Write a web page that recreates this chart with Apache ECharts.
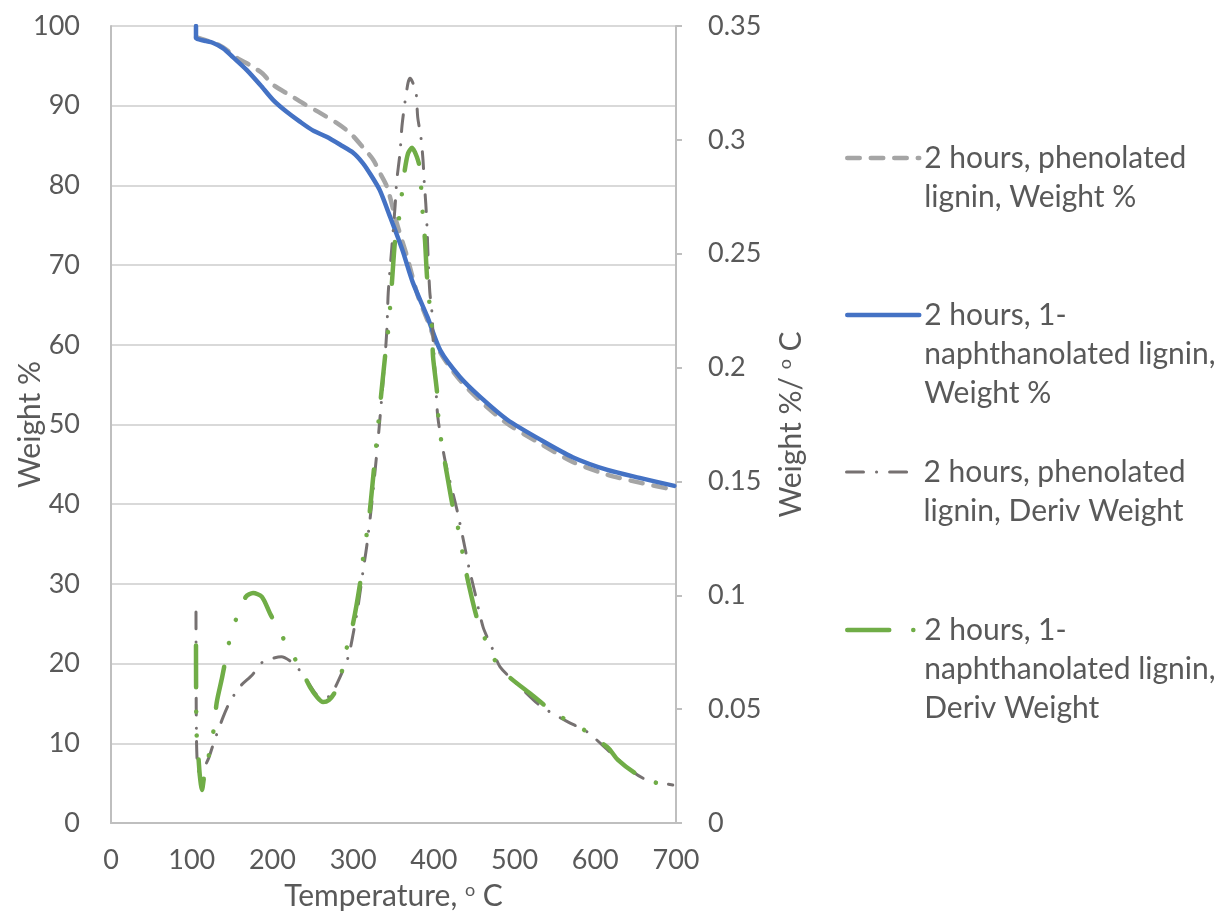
<!DOCTYPE html>
<html>
<head>
<meta charset="utf-8">
<script src="https://cdn.jsdelivr.net/npm/echarts@6/dist/echarts.min.js"></script>
<style>
  html, body { margin: 0; padding: 0; background: #ffffff; }
  #chart { width: 1220px; height: 916px; }
</style>
</head>
<body>
<div id="chart"></div>
<script>
// TGA of 2-hour modified lignins: weight % (left axis) and derivative weight (right axis)

// 2 hours, phenolated lignin — Weight %
const phenolWeightTemp = [105.3, 118, 130, 142, 156, 172, 187, 201, 222, 238, 259, 280, 296, 312, 325, 333, 342, 354, 367, 380, 392, 408, 432, 457, 491, 532, 572, 615, 655, 698];
const phenolWeight = [98.6, 98.2, 97.8, 97.1, 96.0, 95.1, 94.1, 92.6, 91.3, 90.3, 89.1, 87.8, 86.6, 84.8, 83.2, 81.6, 79.8, 75.3, 71.0, 66.2, 63.1, 59.0, 55.6, 53.0, 50.1, 47.6, 45.3, 43.7, 42.7, 41.8];

// 2 hours, 1-naphthanolated lignin — Weight %
const naphWeightTemp = [105.3, 105.3, 110, 118, 126, 139, 151, 168, 185, 201, 218, 234, 250, 267, 284, 300, 312, 322, 333, 346, 356, 362, 374, 392, 408, 432, 457, 491, 532, 572, 615, 655, 698];
const naphWeight = [100.0, 98.5, 98.3, 98.1, 97.9, 97.2, 96.1, 94.5, 92.6, 90.7, 89.2, 88.0, 86.9, 86.1, 85.1, 84.1, 82.8, 81.3, 79.4, 76.0, 73.3, 71.6, 67.8, 63.5, 59.3, 56.0, 53.5, 50.6, 48.1, 45.9, 44.3, 43.3, 42.3];

// 2 hours, phenolated lignin — Deriv Weight (%/°C)
const phenolDerivTemp = [105.3, 105.4, 105.6, 106, 107, 109, 113, 121, 128, 139, 147, 160, 175, 188, 211, 228, 243, 259, 270, 281, 294, 300, 306, 312, 317, 323, 330, 335, 339.5, 342, 343.5, 348, 352, 354, 358, 360.5, 364, 368, 370.5, 374, 378, 380, 384, 386.6, 388, 390, 391.5, 393, 395, 397.7, 399, 402, 405, 414, 429, 439, 443.6, 451, 461, 472, 482, 507, 529, 546, 566, 590, 618, 647, 664, 696];
const phenolDeriv = [0.0927, 0.07, 0.05, 0.035, 0.026, 0.0225, 0.023, 0.0285, 0.036, 0.0466, 0.053, 0.060, 0.065, 0.0707, 0.073, 0.0694, 0.0624, 0.0553, 0.0555, 0.062, 0.073, 0.083, 0.095, 0.110, 0.122, 0.140, 0.165, 0.185, 0.2047, 0.218, 0.233, 0.253, 0.271, 0.282, 0.294, 0.306, 0.316, 0.325, 0.327, 0.325, 0.3206, 0.310, 0.301, 0.291, 0.282, 0.272, 0.262, 0.247, 0.233, 0.224, 0.213, 0.195, 0.178, 0.159, 0.137, 0.120, 0.112, 0.101, 0.086, 0.077, 0.0686, 0.0597, 0.0523, 0.0483, 0.0444, 0.040, 0.0312, 0.0224, 0.0189, 0.0167];

// 2 hours, 1-naphthanolated lignin — Deriv Weight (%/°C)
const naphDerivTemp = [105.3, 105.4, 105.6, 106, 107, 108.5, 110, 112.7, 116, 122.7, 127.6, 131, 137.5, 147.4, 156, 167, 176, 187, 197, 208, 220.5, 234, 246.6, 256, 262.7, 270, 277.5, 286, 292, 300, 308.5, 312, 320, 327, 333, 339.5, 343, 345.7, 348, 352, 357, 360.5, 364, 368, 373, 379, 383, 384.5, 386.6, 389, 391.5, 395, 397.7, 399, 404, 406, 410, 416, 424, 431, 436, 442, 453, 463, 473, 490.6, 521.6, 541.5, 560, 581, 597, 616, 628, 649, 671.5, 698];
const naphDeriv = [0.078, 0.062, 0.048, 0.04, 0.033, 0.028, 0.021, 0.0145, 0.022, 0.032, 0.042, 0.053, 0.0637, 0.081, 0.0905, 0.0993, 0.101, 0.0993, 0.092, 0.0848, 0.0764, 0.0685, 0.0597, 0.055, 0.0531, 0.054, 0.0575, 0.0667, 0.0768, 0.0878, 0.105, 0.1155, 0.135, 0.16, 0.182, 0.2047, 0.215, 0.226, 0.237, 0.256, 0.266, 0.2767, 0.2868, 0.294, 0.2965, 0.2925, 0.287, 0.277, 0.266, 0.256, 0.240, 0.2266, 0.2165, 0.2047, 0.189, 0.176, 0.166, 0.1537, 0.138, 0.128, 0.1177, 0.1067, 0.0905, 0.0812, 0.0729, 0.065, 0.0562, 0.0505, 0.0461, 0.0422, 0.0378, 0.033, 0.0277, 0.022, 0.018, 0.0167];

// Axis ranges and tick steps
const tempTicks = { min: 0, max: 700, step: 100 };
const weightTicks = { min: 0, max: 100, step: 10 };
const derivTicks = { min: 0, max: 0.35, step: 0.05 };

// Series names and how they wrap in the legend
const seriesNames = [
  '2 hours, phenolated lignin, Weight %',
  '2 hours, 1-naphthanolated lignin, Weight %',
  '2 hours, phenolated lignin, Deriv Weight',
  '2 hours, 1-naphthanolated lignin, Deriv Weight'
];
const legendLines = [
  ['2 hours, phenolated', 'lignin, Weight %'],
  ['2 hours, 1-', 'naphthanolated lignin,', 'Weight %'],
  ['2 hours, phenolated', 'lignin, Deriv Weight'],
  ['2 hours, 1-', 'naphthanolated lignin,', 'Deriv Weight']
];

const FONT = 'Lato, "Open Sans", sans-serif';
const TEXT = '#595959';
const LEGEND_LH = 39;
const legendFirstLineY = [158, 315, 472, 630];

function zip(xs, ys) {
  return xs.map((x, i) => [x, ys[i]]);
}

const supRich = {
  sup: { fontSize: 18, fontFamily: FONT, color: TEXT, verticalAlign: 'top', lineHeight: 18 }
};

const chart = echarts.init(document.getElementById('chart'), null, { renderer: 'canvas' });

const styles = [
  { color: '#A5A5A5', width: 4.5, type: [12.5, 11], yAxisIndex: 0 },
  { color: '#4472C4', width: 4.5, type: 'solid', yAxisIndex: 0 },
  { color: '#767171', width: 3, type: [17, 13, 0.1, 13], yAxisIndex: 1 },
  { color: '#70AD47', width: 4.5, type: [42, 24, 0.1, 24, 0.1, 24], yAxisIndex: 1 }
];
const seriesData = [
  zip(phenolWeightTemp, phenolWeight),
  zip(naphWeightTemp, naphWeight),
  zip(phenolDerivTemp, phenolDeriv),
  zip(naphDerivTemp, naphDeriv)
];

const option = {
  backgroundColor: '#ffffff',
  animation: false,
  grid: { left: 111, right: 544, top: 26, bottom: 93, containLabel: false },
  xAxis: {
    type: 'value',
    min: tempTicks.min,
    max: tempTicks.max,
    interval: tempTicks.step,
    name: 'Temperature, {sup|o} C',
    nameLocation: 'middle',
    nameGap: 58,
    nameMoveOverlap: false,
    nameTextStyle: { fontSize: 30, fontFamily: FONT, color: TEXT, rich: supRich },
    axisLine: { show: true, onZero: false, lineStyle: { color: '#BFBFBF', width: 2 } },
    axisTick: { show: false },
    splitLine: { show: false },
    axisLabel: { fontSize: 27, fontFamily: FONT, color: TEXT, margin: 24 }
  },
  yAxis: [
    {
      type: 'value',
      position: 'left',
      min: weightTicks.min,
      max: weightTicks.max,
      interval: weightTicks.step,
      name: 'Weight %',
      nameLocation: 'middle',
      nameRotate: 90,
      nameGap: 66,
      nameMoveOverlap: false,
      nameTextStyle: { fontSize: 30, fontFamily: FONT, color: TEXT },
      axisLine: { show: true, lineStyle: { color: '#BFBFBF', width: 2 } },
      axisTick: { show: false },
      splitLine: { show: true, lineStyle: { color: '#D9D9D9', width: 2 } },
      axisLabel: { fontSize: 27, fontFamily: FONT, color: TEXT, margin: 31 }
    },
    {
      type: 'value',
      position: 'right',
      min: derivTicks.min,
      max: derivTicks.max,
      interval: derivTicks.step,
      name: 'Weight %/ {sup|o} C',
      nameLocation: 'middle',
      nameRotate: 90,
      nameGap: 100,
      nameMoveOverlap: false,
      nameTextStyle: { fontSize: 30, fontFamily: FONT, color: TEXT, rich: supRich },
      axisLine: { show: true, lineStyle: { color: '#BFBFBF', width: 2 } },
      axisTick: { show: true, inside: false, length: 6, lineStyle: { color: '#BFBFBF', width: 2 } },
      splitLine: { show: false },
      axisLabel: {
        fontSize: 27, fontFamily: FONT, color: TEXT, margin: 32,
        formatter: v => String(+v.toFixed(2))
      }
    }
  ],
  legend: legendLines.map((lines, i) => ({
    data: [seriesNames[i]],
    left: 845,
    top: legendFirstLineY[i] - ((lines.length - 1) * LEGEND_LH + LEGEND_LH / 2),
    orient: 'vertical',
    padding: 0,
    itemWidth: 72,
    itemHeight: 14,
    itemGap: 0,
    selectedMode: false,
    itemStyle: { opacity: 0, borderWidth: 0 },
    lineStyle: {
      color: styles[i].color,
      width: styles[i].width,
      type: styles[i].type,
      cap: 'round',
      opacity: 1
    },
    formatter: () => '\n'.repeat(lines.length - 1) + lines.join('\n'),
    textStyle: { fontSize: 30, fontFamily: FONT, color: TEXT, lineHeight: LEGEND_LH }
  })),
  series: seriesNames.map((name, i) => ({
    name: name,
    type: 'line',
    yAxisIndex: styles[i].yAxisIndex,
    data: seriesData[i],
    showSymbol: false,
    symbol: 'none',
    smooth: 0.25,
    silent: true,
    z: 2 + i,
    itemStyle: { color: styles[i].color },
    lineStyle: { color: styles[i].color, width: styles[i].width, type: styles[i].type, cap: 'round', join: 'round' },
    emphasis: { disabled: true }
  }))
};

chart.setOption(option);
</script>
</body>
</html>
